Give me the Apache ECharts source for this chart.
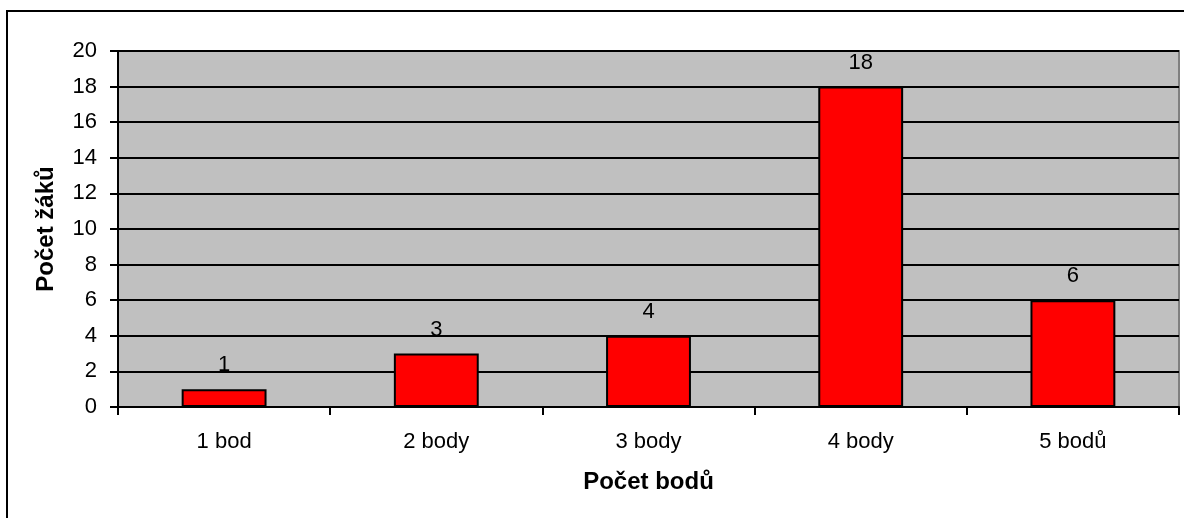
<!DOCTYPE html>
<html>
<head>
<meta charset="utf-8">
<script src="https://cdn.jsdelivr.net/npm/echarts@6/dist/echarts.min.js"></script>
<style>
html,body{margin:0;padding:0;background:#fff;}
#chart{width:1184px;height:518px;}
</style>
</head>
<body>
<div id="chart"></div>
<script>
const categories = ['1 bod', '2 body', '3 body', '4 body', '5 bodů'];
const values = [1, 3, 4, 18, 6];
const yTicks = {min: 0, max: 20, interval: 2};

const chart = echarts.init(document.getElementById('chart'), null, {renderer: 'canvas'});
const font = 'Arial, "Liberation Sans", sans-serif';
chart.setOption({
  animation: false,
  backgroundColor: '#ffffff',
  graphic: [{
    type: 'rect',
    shape: {x: 7, y: 11, width: 1180, height: 520},
    style: {fill: 'none', stroke: '#000', lineWidth: 2},
    silent: true, z: 100
  }],
  grid: {
    left: 118, top: 51, right: 5, bottom: 111,
    show: true, backgroundColor: '#C0C0C0', borderColor: '#808080', borderWidth: 2
  },
  xAxis: {
    type: 'category',
    data: categories,
    name: 'Počet bodů',
    nameLocation: 'middle',
    nameGap: 63,
    nameTextStyle: {fontFamily: font, fontSize: 24, fontWeight: 'bold', color: '#000'},
    axisLine: {show: true, lineStyle: {color: '#000', width: 2}},
    axisTick: {show: true, length: 8, lineStyle: {color: '#000', width: 2}, alignWithLabel: false},
    axisLabel: {fontFamily: font, fontSize: 22, color: '#000', margin: 24},
    splitLine: {show: false}
  },
  yAxis: {
    type: 'value',
    min: yTicks.min, max: yTicks.max, interval: yTicks.interval,
    name: 'Počet žáků',
    nameLocation: 'middle',
    nameGap: 60,
    nameRotate: 90,
    nameTextStyle: {fontFamily: font, fontSize: 24, fontWeight: 'bold', color: '#000'},
    axisLine: {show: true, lineStyle: {color: '#000', width: 2}},
    axisTick: {show: true, length: 8, inside: false, lineStyle: {color: '#000', width: 2}},
    axisLabel: {fontFamily: font, fontSize: 22, color: '#000', margin: 21},
    splitLine: {show: true, lineStyle: {color: '#000', width: 2}}
  },
  series: [{
    type: 'bar',
    data: values,
    barWidth: '40%',
    itemStyle: {color: '#FF0000', borderColor: '#000', borderWidth: 2},
    label: {show: true, position: 'top', distance: 13, fontFamily: font, fontSize: 22, color: '#000'},
    z: 3
  }]
});
</script>
</body>
</html>
